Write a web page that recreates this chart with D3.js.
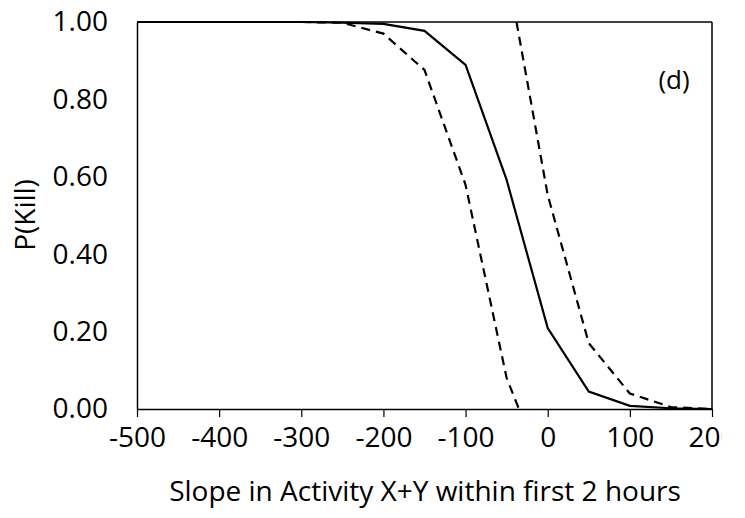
<!DOCTYPE html>
<html>
<head>
<meta charset="utf-8">
<script src="https://cdn.jsdelivr.net/npm/d3@7"></script>
<style>
  html, body { margin: 0; padding: 0; background: #fff; }
  svg { display: block; }
  text { font-family: "Open Sans", "Noto Sans", sans-serif; fill: #000; }
</style>
</head>
<body>
<svg id="chart" width="745" height="518"></svg>
<script>
// Data
const xTicks = [-500, -400, -300, -200, -100, 0, 100, 200];
const yTicks = [0, 0.2, 0.4, 0.6, 0.8, 1.0];

const solidX = [-500, -300, -250, -200, -150, -100, -50, 0, 50, 100, 150, 200];
const solidY = [1.0, 1.0, 0.998, 0.995, 0.977, 0.889, 0.592, 0.209, 0.045, 0.008, 0.002, 0.0];

const leftDashX = [-500, -300, -250, -200, -150, -100, -50, -35];
const leftDashY = [1.0, 1.0, 0.998, 0.97, 0.876, 0.579, 0.08, 0.0];

const rightDashX = [-38, 0, 50, 100, 150, 200];
const rightDashY = [1.0, 0.553, 0.17, 0.04, 0.005, 0.0];

const panelLabel = "(d)";
const xTitle = "Slope in Activity X+Y within first 2 hours";
const yTitle = "P(Kill)";

const svg = d3.select("#chart");
const L = 137, R = 712, T = 22, B = 409;

const x = d3.scaleLinear().domain([-500, 200]).range([L, R]);
const y = d3.scaleLinear().domain([0, 1]).range([B, T]);

svg.append("defs").append("clipPath").attr("id", "pageclip")
  .append("rect").attr("x", 0).attr("y", 0).attr("width", 722).attr("height", 518);

const g = svg.append("g").attr("clip-path", "url(#pageclip)");

// frame (top, right)
g.append("line").attr("x1", L).attr("x2", R).attr("y1", T).attr("y2", T)
  .attr("stroke", "#000").attr("stroke-width", 1.5);
g.append("line").attr("x1", R).attr("x2", R).attr("y1", T).attr("y2", B)
  .attr("stroke", "#000").attr("stroke-width", 1.5);

// lines
const toPts = (xs, ys) => xs.map((v, i) => [v, ys[i]]);
const lineGen = d3.line().x(d => x(d[0])).y(d => y(d[1]));

g.append("path").datum(toPts(solidX, solidY))
  .attr("d", lineGen).attr("fill", "none").attr("stroke", "#000").attr("stroke-width", 2.2);
g.append("path").datum(toPts(leftDashX, leftDashY))
  .attr("d", lineGen).attr("fill", "none").attr("stroke", "#000").attr("stroke-width", 2.2)
  .attr("stroke-dasharray", "9,6");
g.append("path").datum(toPts(rightDashX, rightDashY))
  .attr("d", lineGen).attr("fill", "none").attr("stroke", "#000").attr("stroke-width", 2.2)
  .attr("stroke-dasharray", "9,6");

// axes
const xAxis = g.append("g").attr("transform", `translate(0,${B})`)
  .call(d3.axisBottom(x).tickValues(xTicks).tickSize(8).tickSizeOuter(0).tickPadding(10)
    .tickFormat(d => String(d)));
xAxis.select(".domain").attr("stroke-width", 1.5);
xAxis.selectAll(".tick line").attr("stroke-width", 1.2);
xAxis.selectAll("text").style("font-size", "28px").attr("fill", "#000");

const yAxis = g.append("g").attr("transform", `translate(${L},0)`)
  .call(d3.axisLeft(y).tickValues(yTicks).tickSize(0).tickSizeOuter(0).tickPadding(29).tickFormat(d3.format(".2f")));
yAxis.select(".domain").attr("stroke-width", 1.5);
yAxis.selectAll("text").style("font-size", "28px").attr("fill", "#000");

// panel label
g.append("text").attr("x", 674).attr("y", 79).attr("text-anchor", "middle")
  .attr("dominant-baseline", "central").style("font-size", "26px").text(panelLabel);

// axis titles
g.append("text").attr("x", 425).attr("y", 490).attr("text-anchor", "middle")
  .attr("dominant-baseline", "central").style("font-size", "28px").text(xTitle);
g.append("text").attr("transform", "translate(24,215) rotate(-90)").attr("text-anchor", "middle")
  .attr("dominant-baseline", "central").style("font-size", "28px").text(yTitle);
</script>
</body>
</html>
